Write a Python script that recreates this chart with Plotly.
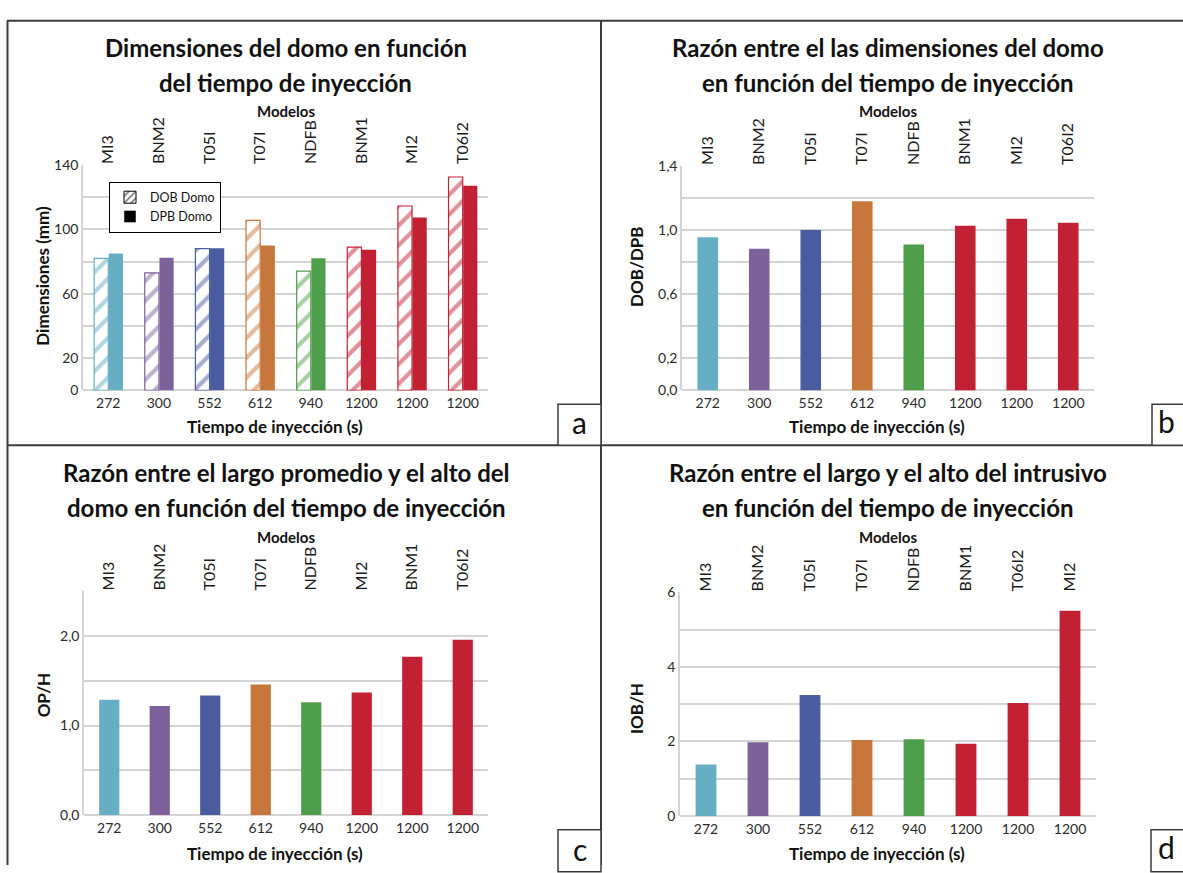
import plotly.graph_objects as go

# ---- data ----
tiempos = ["272", "300", "552", "612", "940", "1200", "1200", "1200"]

modelos_ab = ["MI3", "BNM2", "T05I", "T07I", "NDFB", "BNM1", "MI2", "T06I2"]
modelos_c = ["MI3", "BNM2", "T05I", "T07I", "NDFB", "MI2", "BNM1", "T06I2"]
modelos_d = ["MI3", "BNM2", "T05I", "T07I", "NDFB", "BNM1", "T06I2", "MI2"]

dob_domo = [82, 73, 88, 105.5, 74, 89, 114.5, 132.5]
dpb_domo = [85, 82.3, 88.2, 90, 82, 87.4, 107.3, 127]
dob_dpb = [0.955, 0.883, 1.0, 1.18, 0.91, 1.027, 1.07, 1.046]
op_h = [1.29, 1.22, 1.335, 1.46, 1.26, 1.37, 1.77, 1.96]
iob_h = [1.38, 1.98, 3.25, 2.04, 2.06, 1.94, 3.03, 5.51]

colores = ["#66AEC4", "#7C619B", "#4B5BA0", "#C6763B", "#4F9E4B",
           "#C22133", "#C22133", "#C22133"]

W, H = 1183, 873
FONT = "Lato"
TXT = "#2A2A2A"
GRID = "#D4D4D4"
pos = list(range(len(tiempos)))


def px_x(v):
    return v / W


def px_y(v):
    return 1 - v / H


fig = go.Figure()

# ---- panel a: paired bars, hatched DOB + solid DPB ----
BW = 0.28
fig.add_trace(go.Bar(
    x=pos, y=dob_domo, xaxis="x", yaxis="y", showlegend=False,
    width=BW, offset=-BW,
    marker=dict(color="white", line=dict(color=colores, width=1.2),
                pattern=dict(shape="/", fgcolor=colores, bgcolor="white",
                             size=14, solidity=0.3, fillmode="overlay")),
    hoverinfo="y"))
fig.add_trace(go.Bar(
    x=pos, y=dpb_domo, xaxis="x", yaxis="y", showlegend=False,
    width=BW, offset=0.01,
    marker=dict(color=colores, line=dict(width=0)), hoverinfo="y"))
# legend keys (black)
fig.add_trace(go.Bar(
    x=[None], y=[None], xaxis="x", yaxis="y", name="DOB Domo",
    marker=dict(color="white", line=dict(color="black", width=1),
                pattern=dict(shape="/", fgcolor="black", bgcolor="white",
                             size=6, solidity=0.35, fillmode="overlay"))))
fig.add_trace(go.Bar(
    x=[None], y=[None], xaxis="x", yaxis="y", name="DPB Domo",
    marker=dict(color="black")))

# ---- panels b, c, d: single bars ----
for vals, xa, ya in [(dob_dpb, "x2", "y2"), (op_h, "x3", "y3"), (iob_h, "x4", "y4")]:
    fig.add_trace(go.Bar(x=pos, y=vals, xaxis=xa, yaxis=ya, width=0.4,
                         offset=-0.2, showlegend=False,
                         marker=dict(color=colores, line=dict(width=0)),
                         hoverinfo="y"))

# invisible traces carrying the top (model) axes
for xa, ya in [("x5", "y"), ("x6", "y2"), ("x7", "y3"), ("x8", "y4")]:
    fig.add_trace(go.Scatter(x=pos, y=[0] * 8, xaxis=xa, yaxis=ya, mode="markers",
                             marker=dict(opacity=0), showlegend=False,
                             hoverinfo="skip"))

# panel geometry in pixels: (x0, x1, ytop, ybottom)
geo = {
    1: (83, 488, 159, 389),
    2: (682, 1094, 160, 389),
    3: (84, 488, 594, 822),
    4: (680, 1096, 595, 823),
}

tick_font = dict(family=FONT, size=14, color=TXT)
top_font = dict(family=FONT, size=16, color="#1A1A1A")
title_font = dict(family=FONT, size=17, color="#111111", weight="bold")

yspec = {
    1: dict(range=[0, 140], tickvals=[0, 20, 40, 60, 80, 100, 120, 140],
            ticktext=["0", "20", "", "60", "", "100", "", "140"]),
    2: dict(range=[0, 1.4], tickvals=[0, 0.2, 0.4, 0.6, 0.8, 1.0, 1.2, 1.4],
            ticktext=["0,0", "0,2", "", "0,6", "", "1,0", "", "1,4"]),
    3: dict(range=[0, 2.5], tickvals=[0, 0.5, 1.0, 1.5, 2.0, 2.5],
            ticktext=["0,0", "", "1,0", "", "2,0", ""]),
    4: dict(range=[0, 6], tickvals=[0, 1, 2, 3, 4, 5, 6],
            ticktext=["0", "", "2", "", "4", "", "6"]),
}
top_labels = {1: modelos_ab, 2: modelos_ab, 3: modelos_c, 4: modelos_d}

layout = dict(
    width=W, height=H, margin=dict(l=0, r=0, t=0, b=0),
    paper_bgcolor="white", plot_bgcolor="white",
    font=dict(family=FONT, color=TXT),
    showlegend=True,
    legend=dict(x=px_x(109), y=px_y(176), xanchor="left", yanchor="top",
                bordercolor="black", borderwidth=1, bgcolor="white",
                font=dict(family=FONT, size=12.5, color="#111111"),
                tracegroupgap=0, itemwidth=30),
)

for i in range(1, 5):
    x0, x1, yt, yb = geo[i]
    xs = "" if i == 1 else str(i)
    layout[f"xaxis{xs}"] = dict(
        domain=[px_x(x0), px_x(x1)], anchor=f"y{xs}", range=[-0.5, 7.5],
        tickvals=pos, ticktext=tiempos, tickfont=tick_font, ticks="",
        ticklabelstandoff=3,
        showgrid=False, zeroline=False, showline=False, fixedrange=True)
    ys = yspec[i]
    layout[f"yaxis{xs}"] = dict(
        domain=[px_y(yb), px_y(yt)], anchor=f"x{xs}", range=ys["range"],
        tickvals=ys["tickvals"], ticktext=ys["ticktext"], tickfont=tick_font,
        ticks="", showgrid=True, gridcolor=GRID, gridwidth=1.5,
        zeroline=True, zerolinecolor=GRID, zerolinewidth=1.5,
        showline=True, linecolor=GRID, linewidth=1.5, fixedrange=True)
    layout[f"xaxis{i + 4}"] = dict(
        overlaying=f"x{xs}", anchor=f"y{xs}", side="top", range=[-0.5, 7.5],
        tickvals=pos, ticktext=top_labels[i], tickangle=-90, tickfont=top_font,
        ticks="", showgrid=False, zeroline=False, showline=False,
        fixedrange=True)

fig.update_layout(**layout)


def note(text, x, y, font, angle=0):
    fig.add_annotation(text=text, x=px_x(x), y=px_y(y), xref="paper",
                       yref="paper", xanchor="center", yanchor="middle",
                       showarrow=False, font=font, textangle=angle)


# ---- panel titles, axis titles ----
titulos = {
    1: ("Dimensiones del domo en función", "del tiempo de inyección"),
    2: ("Razón entre el las dimensiones del domo",
        "en función del tiempo de inyección"),
    3: ("Razón entre el largo promedio y el alto del",
        "domo en función del tiempo de inyección"),
    4: ("Razón entre el largo y el alto del intrusivo",
        "en función del tiempo de inyección"),
}
title_rows = {1: (39, 75), 2: (39, 75), 3: (473, 508), 4: (473, 508)}
modelos_row = {1: 104, 2: 104, 3: 538, 4: 538}
xtitle_row = {1: 426, 2: 426, 3: 861, 4: 861}
ytitles = {1: ("Dimensiones (mm)", 43, 272), 2: ("DOB/DPB", 637, 263),
           3: ("OP/H", 43, 700), 4: ("IOB/H", 636, 714)}
big_font = dict(family=FONT, size=24, color="#111111", weight="bold")
modelos_font = dict(family=FONT, size=15, color="#111111", weight="bold")

for i, lines in titulos.items():
    x0, x1, _, _ = geo[i]
    xc = (x0 + x1) / 2
    for line, row in zip(lines, title_rows[i]):
        note(line, xc, row, big_font)
    note("Modelos", xc, modelos_row[i], modelos_font)
    note("Tiempo de inyección (s)", xc - 11, xtitle_row[i], title_font)
    t, tx, ty = ytitles[i]
    note(t, tx, ty, title_font, angle=-90)

# ---- frame lines and letter boxes ----
frame = dict(color="#3C3C3C", width=2)
shapes = [
    dict(type="line", xref="paper", yref="paper", x0=px_x(7), x1=1,
         y0=px_y(12), y1=px_y(12), line=frame),
    dict(type="line", xref="paper", yref="paper", x0=px_x(7.5), x1=px_x(7.5),
         y0=px_y(12), y1=0, line=frame),
    dict(type="line", xref="paper", yref="paper", x0=px_x(601), x1=px_x(601),
         y0=px_y(12), y1=0, line=frame),
    dict(type="line", xref="paper", yref="paper", x0=px_x(7), x1=1,
         y0=px_y(445), y1=px_y(445), line=frame),
]
# (letter, box x0, box top, box x1, box bottom, letter x, letter y)
boxes = [("a", 558, 403, 601, 445, 579, 421),
         ("b", 1152, 403, 1195, 445, 1166, 420),
         ("c", 558, 837, 601, 880, 580, 857),
         ("d", 1151, 837, 1195, 880, 1166, 855)]
for letra, bx0, by0, bx1, by1, lx, ly in boxes:
    shapes.append(dict(type="rect", xref="paper", yref="paper",
                       x0=px_x(bx0), x1=px_x(bx1), y0=px_y(by1), y1=px_y(by0),
                       line=dict(color="#3C3C3C", width=1.5), fillcolor="white"))
    note(letra, lx, ly, dict(family=FONT, size=30, color="#111111"))
fig.update_layout(shapes=shapes)

fig.write_html("out.html")
